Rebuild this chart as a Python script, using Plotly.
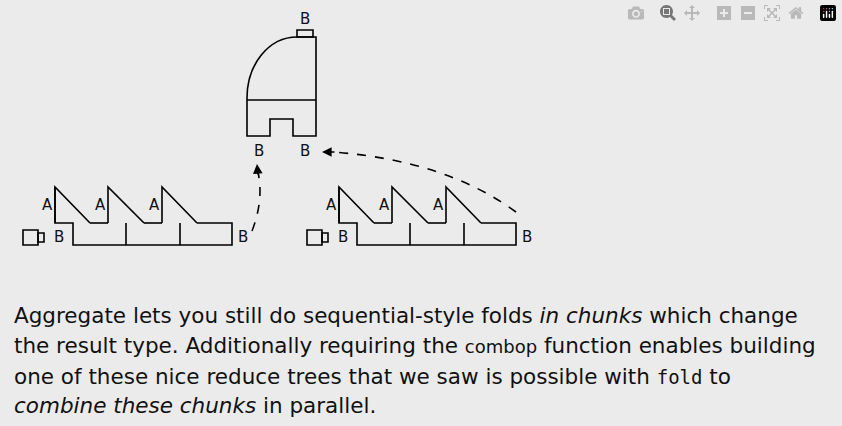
import plotly.graph_objects as go

W, H = 842, 426
# geometry (pixel units)
tooth_x = [55, 108, 162]
tooth_end = [90, 144, 197]
sep_x = [126, 180]
top_y, mid_y, bot_y = 187, 223, 245
step_x, right_x = 73, 232
offsets = [0, 284]
a_labels = ["A", "A", "A"]

text_lines = [
    "Aggregate lets you still do sequential-style folds <i>in chunks</i> which change",
    "the result type. Additionally requiring the <span style='font-size:18px'>combop</span> function enables building",
    "one of these nice reduce trees that we saw is possible with <span style=\"font-family:'DejaVu Sans Mono';font-size:19px\">fold</span> to",
    "<i>combine these chunks</i> in parallel.",
]
text_y = [315, 345, 376, 405]

fig = go.Figure()
shapes = []
ann = []
L = dict(color="black", width=1.6)

for o in offsets:
    p = f"M{55+o},{top_y} L{55+o},{mid_y} L{step_x+o},{mid_y} L{step_x+o},{bot_y} L{right_x+o},{bot_y} L{right_x+o},{mid_y} L{tooth_end[2]+o},{mid_y}"
    shapes.append(dict(type="path", path=p, line=L, xref="x", yref="y"))
    for i, (tx, te) in enumerate(zip(tooth_x, tooth_end)):
        shapes.append(dict(type="path", path=f"M{tx+o},{mid_y} L{tx+o},{top_y} L{te+o},{mid_y}", line=L))
        ann.append(dict(x=tx+o-8, y=205, text=a_labels[i], showarrow=False, font=dict(size=15)))
    for i in range(2):
        shapes.append(dict(type="line", x0=tooth_end[i]+o, x1=tooth_x[i+1]+o, y0=mid_y, y1=mid_y, line=L))
    for s in sep_x:
        shapes.append(dict(type="line", x0=s+o, x1=s+o, y0=mid_y, y1=bot_y, line=L))
    shapes.append(dict(type="rect", x0=23+o, x1=38+o, y0=230, y1=245, line=L))
    shapes.append(dict(type="rect", x0=38+o, x1=44+o, y0=233, y1=242, line=L))
    ann.append(dict(x=59+o, y=237, text="B", showarrow=False, font=dict(size=15)))
    ann.append(dict(x=243+o, y=237, text="B", showarrow=False, font=dict(size=15)))

# top shape
shapes.append(dict(type="path", path="M247,98 C247,64 269,37 297,37 L316,37 L316,136 L293,136 L293,119 L270,119 L270,136 L247,136 Z", line=L))
shapes.append(dict(type="line", x0=247, x1=316, y0=100, y1=100, line=L))
shapes.append(dict(type="rect", x0=297, x1=313, y0=30, y1=37, line=L))
for x, y in [(305, 19), (259, 151), (305, 151)]:
    ann.append(dict(x=x, y=y, text="B", showarrow=False, font=dict(size=15)))

# dashed arrows
D = dict(color="black", width=1.6, dash="dash")
shapes.append(dict(type="path", path="M252,231 Q264,200 258,172", line=D))
shapes.append(dict(type="path", path="M516,212 Q445,160 332,152", line=D))
ann.append(dict(x=257, y=164, ax=258, ay=176, axref="x", ayref="y", text="", showarrow=True, arrowhead=2, arrowsize=1.2, arrowwidth=1.6, arrowcolor="black"))
ann.append(dict(x=322, y=152, ax=336, ay=152, axref="x", ayref="y", text="", showarrow=True, arrowhead=2, arrowsize=1.2, arrowwidth=1.6, arrowcolor="black"))

for t, y in zip(text_lines, text_y):
    ann.append(dict(x=12, y=y, text=t, showarrow=False, xanchor="left", font=dict(size=21.5)))

fig.update_layout(
    width=W, height=H, margin=dict(l=0, r=0, t=0, b=0),
    paper_bgcolor="#ebebeb", plot_bgcolor="#ebebeb",
    xaxis=dict(range=[0, W], visible=False),
    yaxis=dict(range=[H, 0], visible=False),
    shapes=shapes, annotations=ann, showlegend=False,
    font=dict(family="DejaVu Sans", color="#111"),
)
fig.write_html("out.html", post_script="document.body.style.margin='0';document.body.style.background='#ebebeb';")
